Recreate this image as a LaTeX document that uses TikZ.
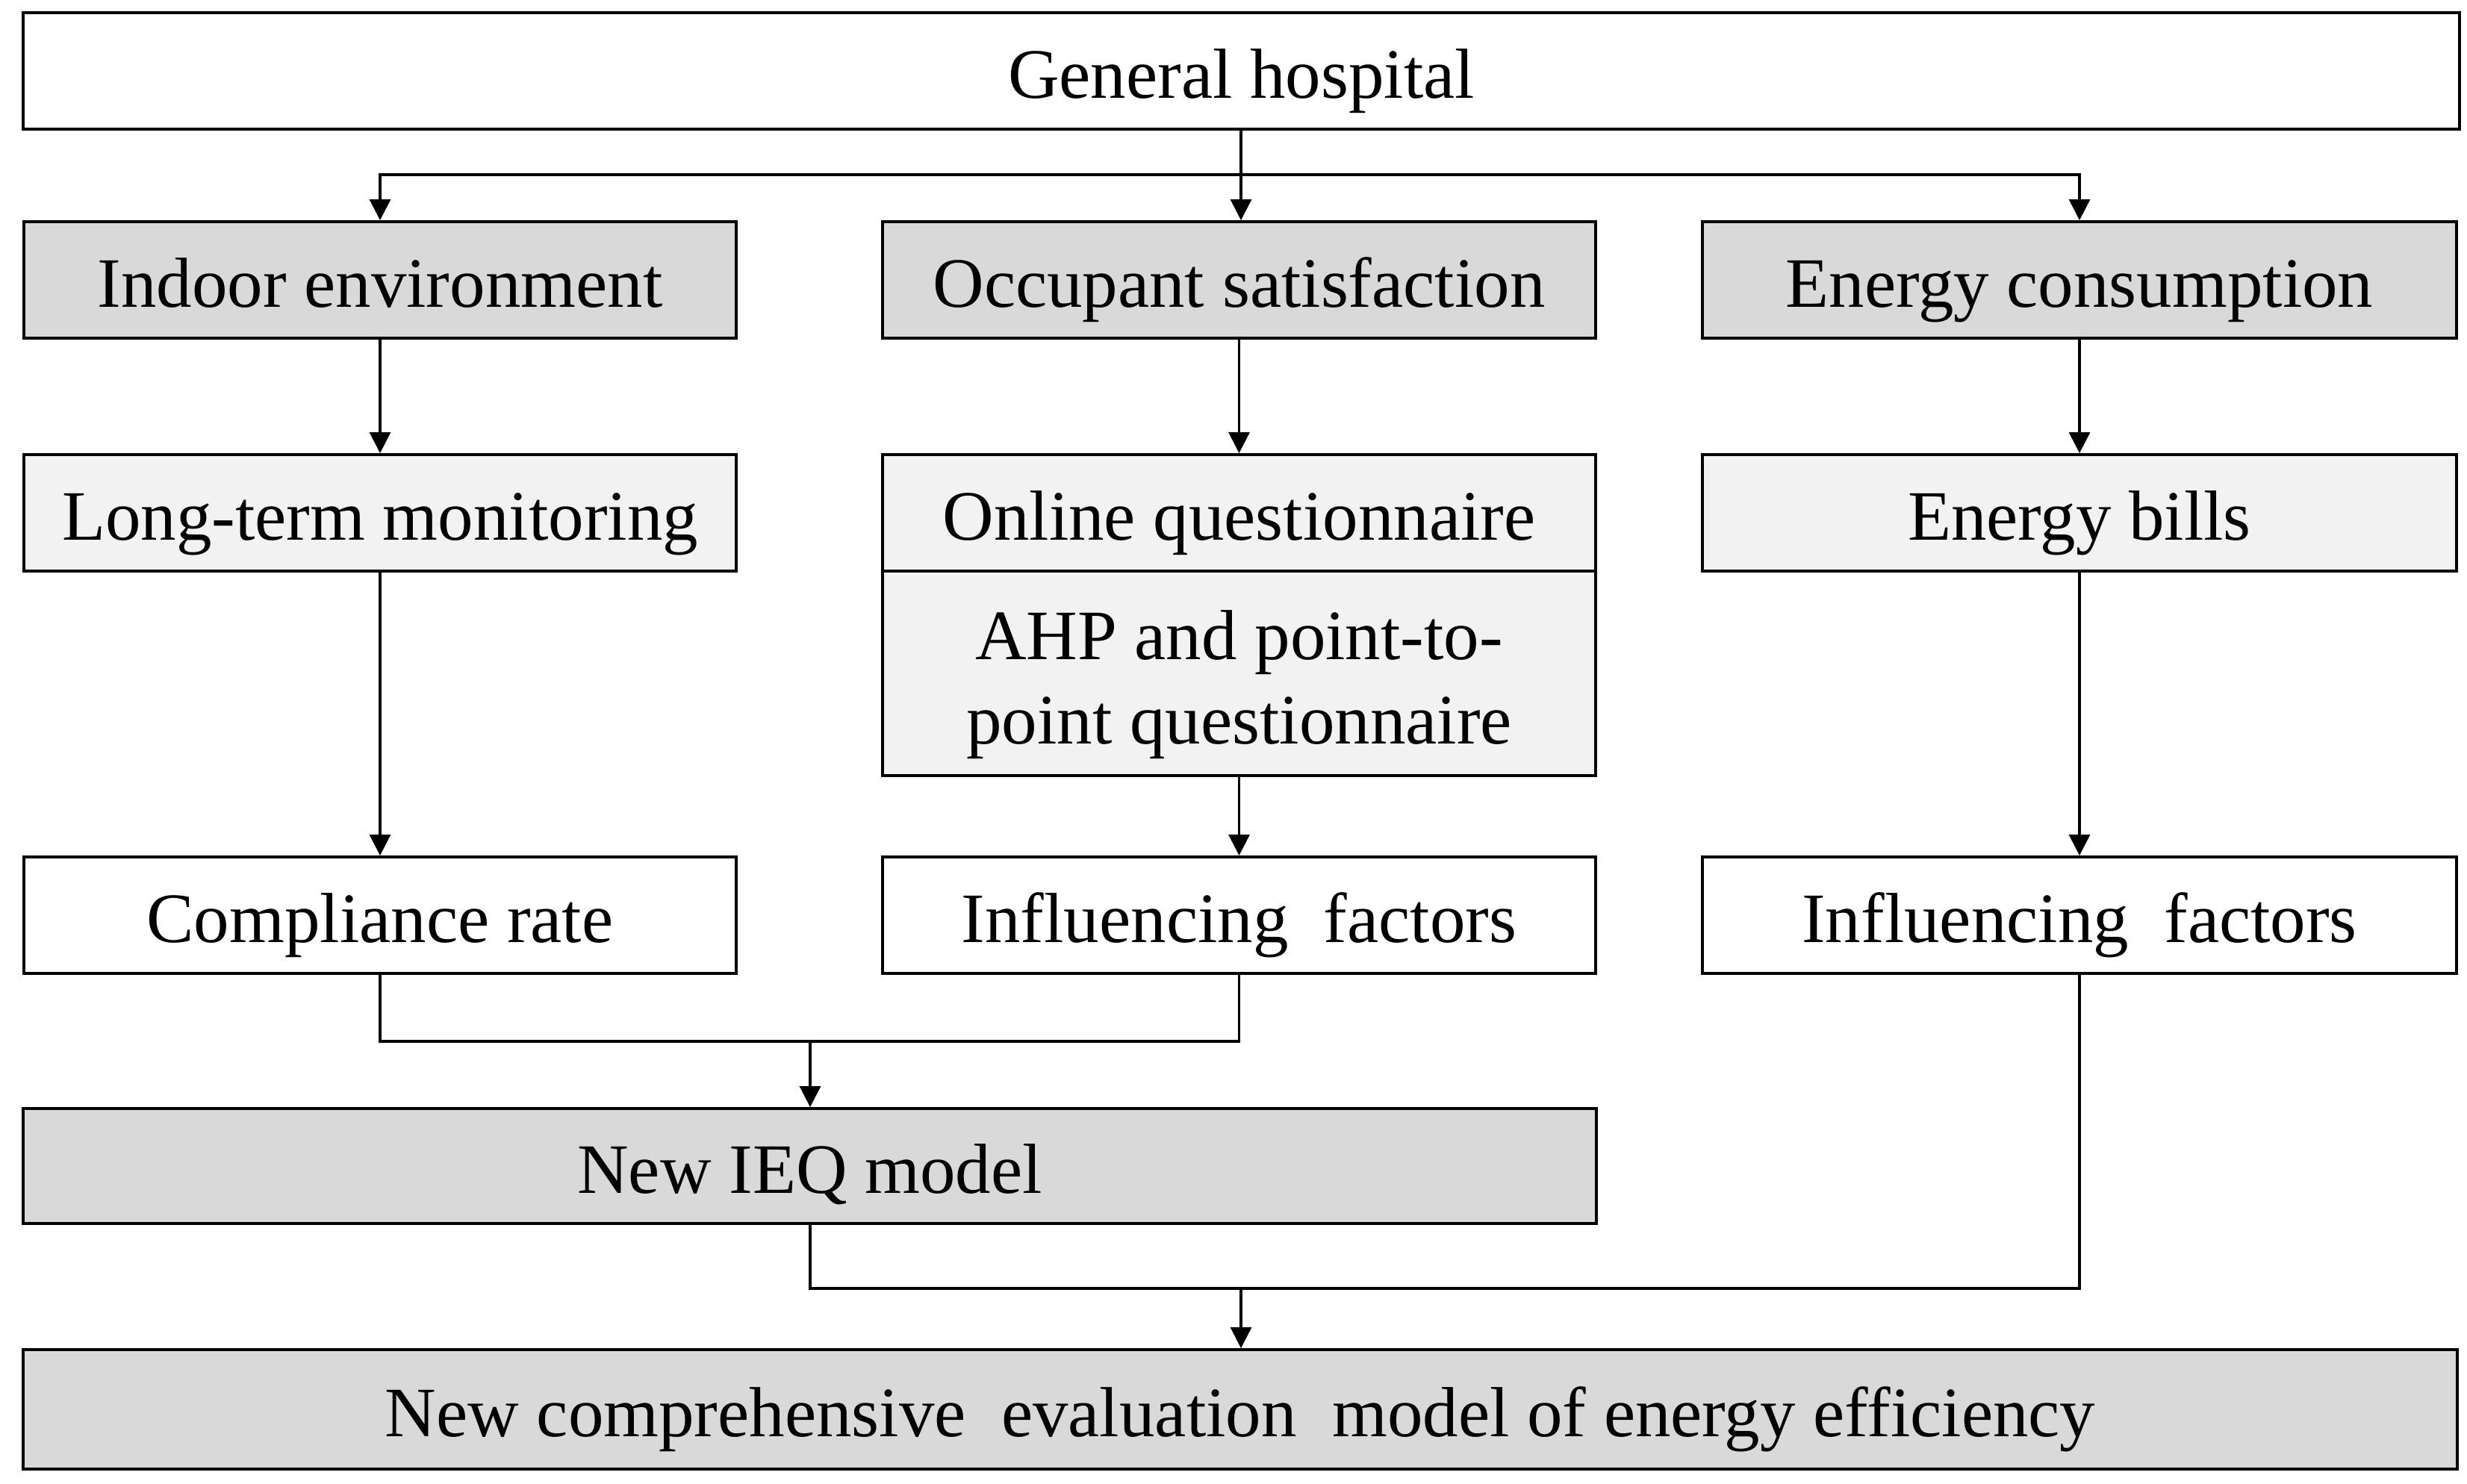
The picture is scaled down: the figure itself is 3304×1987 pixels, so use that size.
\documentclass[tikz,border=0pt]{standalone}
\usepackage{fontspec}
\setmainfont{Liberation Serif}
\usetikzlibrary{arrows.meta}
\definecolor{darkfill}{HTML}{D9D9D9}
\definecolor{lightfill}{HTML}{F2F2F2}
\tikzset{
  box/.style={draw=black, line width=1.1pt, rectangle, inner sep=0pt, align=center,
    font=\fontsize{27}{32}\selectfont, minimum height=1.56cm,
    text height=21pt, text depth=0pt},
  dark/.style={box, fill=darkfill},
  light/.style={box, fill=lightfill},
  plain/.style={box, fill=white},
  conn/.style={draw=black, line width=0.9pt},
  arr/.style={conn, -{Triangle[length=0.28cm,width=0.28cm]}}
}
\begin{document}
\begin{tikzpicture}[x=0.01cm, y=-0.01cm]
\useasboundingbox (0,0) rectangle (3304,1987);
% nodes
\node[plain, minimum width=32.61cm] (top) at (1662.5,95) {General hospital};
\node[dark, minimum width=9.54cm] (ind) at (509,375) {Indoor environment};
\node[dark, minimum width=9.55cm] (occ) at (1659.5,375) {Occupant satisfaction};
\node[dark, minimum width=10.10cm] (ene) at (2785,375) {Energy consumption};
\node[light, minimum width=9.54cm] (ltm) at (509,687) {Long-term monitoring};
\node[light, minimum width=9.55cm] (onl) at (1659.5,687) {Online questionnaire};
\node[light, minimum width=9.55cm, minimum height=2.74cm, text height=53.5pt, text depth=0pt] (ahp) at (1659.5,902) {AHP and point-to-\\point questionnaire};
\node[light, minimum width=10.10cm] (bil) at (2785,687) {Energy bills};
\node[plain, minimum width=9.54cm] (cr) at (509,1226) {Compliance rate};
\node[plain, minimum width=9.55cm] (if1) at (1659.5,1226) {Influencing\ \ factors};
\node[plain, minimum width=10.10cm] (if2) at (2785,1226) {Influencing\ \ factors};
\node[dark, minimum width=21.05cm, minimum height=1.54cm] (ieq) at (1084.5,1562) {New IEQ model};
\node[dark, minimum width=32.58cm, minimum height=1.60cm] (fin) at (1661,1888) {New comprehensive\ \ evaluation\ \ model of energy efficiency};
% coordinates
\coordinate (split) at (1662,234);
\coordinate (m1) at (1085,1395);
\coordinate (m2) at (1662,1726);
% connectors
\draw[conn] (top.south -| split) -- (split);
\draw[arr] (split) -| (ind.north);
\draw[arr] (split) -| (ene.north);
\draw[arr] (split) -- (split |- occ.north);
\draw[arr] (ind) -- (ltm);
\draw[arr] (occ) -- (onl);
\draw[arr] (ene) -- (bil);
\draw[arr] (ltm) -- (cr);
\draw[arr] (ahp) -- (if1);
\draw[arr] (bil) -- (if2);
\draw[conn] (cr.south) -- (cr.south |- m1) -- (if1.south |- m1) -- (if1.south);
\draw[arr] (m1) -- (m1 |- ieq.north);
\draw[conn] (ieq.south -| m1) -- (m1 |- m2) -- (if2.south |- m2) -- (if2.south);
\draw[arr] (m2) -- (m2 |- fin.north);
\end{tikzpicture}
\end{document}
